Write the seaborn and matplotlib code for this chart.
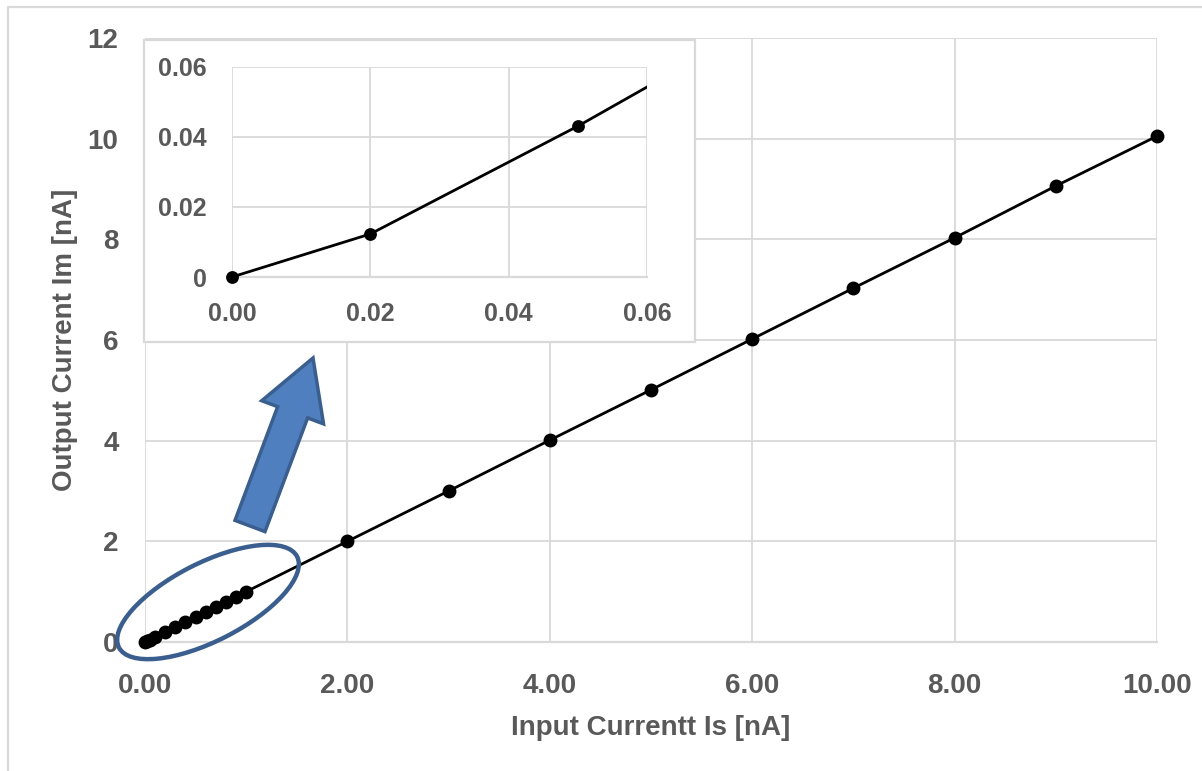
import matplotlib
matplotlib.use("Agg")
import matplotlib.pyplot as plt
import matplotlib.ticker as mticker
from matplotlib.patches import Ellipse, FancyArrow, Rectangle
from matplotlib.lines import Line2D
from matplotlib.transforms import IdentityTransform
import seaborn as sns

# ---------------- data ----------------
input_is = [0, 0.02, 0.05, 0.1, 0.2, 0.3, 0.4, 0.5, 0.6, 0.7, 0.8, 0.9, 1.0,
            2, 3, 4, 5, 6, 7, 8, 9, 10]
output_im = [0, 0.0123, 0.0431, 0.099, 0.2, 0.3, 0.4, 0.5, 0.6, 0.7, 0.8, 0.9, 1.0,
             2.0, 3.0, 4.01, 5.01, 6.02, 7.03, 8.03, 9.06, 10.05]

main_xticks = [0, 2, 4, 6, 8, 10]
main_yticks = [0, 2, 4, 6, 8, 10, 12]
inset_ticks = [0, 0.02, 0.04, 0.06]

txt_col = '#595959'
grid_col = '#D9D9D9'
blue_edge = '#3A5F8E'
blue_fill = '#4F7FBF'
# --------------------------------------

sns.set_style('white')
plt.rcParams['font.family'] = ['Liberation Sans Narrow', 'Liberation Sans', 'DejaVu Sans']
plt.rcParams['font.weight'] = 'bold'

W, H = 1202, 771
fig = plt.figure(figsize=(W / 100, H / 100), dpi=100)

def fx(px):
    return px / W

def fy(py):
    return 1 - py / H

# outer frame of the chart area
fig.add_artist(Line2D([fx(8), 1], [fy(7), fy(7)], color=grid_col, lw=1.6))
fig.add_artist(Line2D([fx(8), fx(8)], [fy(7), 0], color=grid_col, lw=1.6))

# main axes
ax = fig.add_axes([fx(145), fy(642), fx(1157) - fx(145), fy(38) - fy(642)])
sns.lineplot(x=input_is, y=output_im, ax=ax, color='black', linewidth=2.0,
             marker='o', markersize=10, markeredgewidth=0, sort=False, zorder=5,
             clip_on=False)
ax.set_xlim(0, 10)
ax.set_ylim(0, 12)
ax.set_xticks(main_xticks)
ax.set_yticks(main_yticks)
ax.xaxis.set_major_formatter(mticker.FuncFormatter(lambda v, p: '{:.2f}'.format(v)))
ax.yaxis.set_major_formatter(mticker.FuncFormatter(lambda v, p: '{:g}'.format(v)))
ax.grid(True, color=grid_col, linewidth=1.3)
ax.set_axisbelow(True)
for s in ['top', 'right', 'left']:
    ax.spines[s].set_visible(False)
ax.spines['bottom'].set_color(grid_col)
ax.spines['bottom'].set_linewidth(1.6)
ax.tick_params(axis='both', length=0, labelsize=20, colors=txt_col)
ax.tick_params(axis='x', pad=22)
ax.tick_params(axis='y', pad=19)
for lab in ax.get_xticklabels() + ax.get_yticklabels():
    lab.set_fontweight('bold')
ax.set_xlabel('Input Currentt Is [nA]', fontsize=20, color=txt_col, fontweight='bold', labelpad=12)
ax.set_ylabel('Output Current Im [nA]', fontsize=20, color=txt_col, fontweight='bold', labelpad=7)

# inset background box
fig.add_artist(Rectangle((fx(144), fy(342)), fx(695) - fx(144), fy(40) - fy(342),
                         transform=fig.transFigure, facecolor='white',
                         edgecolor=grid_col, linewidth=1.6, zorder=3))

# inset axes
axi = fig.add_axes([fx(232), fy(277), fx(647) - fx(232), fy(67) - fy(277)], zorder=4)
sns.lineplot(x=input_is, y=output_im, ax=axi, color='black', linewidth=2.0,
             sort=False, zorder=5)
# markers of the points that fall inside the zoomed window (not clipped at the edges)
in_x = [v for v in input_is if v <= 0.06]
in_y = [output_im[i] for i, v in enumerate(input_is) if v <= 0.06]
sns.scatterplot(x=in_x, y=in_y, ax=axi, color='black', s=85, linewidth=0,
                zorder=6, clip_on=False)
axi.set_xlim(0, 0.06)
axi.set_ylim(0, 0.06)
axi.set_xticks(inset_ticks)
axi.set_yticks(inset_ticks)
axi.xaxis.set_major_formatter(mticker.FuncFormatter(lambda v, p: '{:.2f}'.format(v)))
axi.yaxis.set_major_formatter(mticker.FuncFormatter(lambda v, p: '{:g}'.format(round(v, 2))))
axi.grid(True, color=grid_col, linewidth=1.3)
axi.set_axisbelow(True)
for s in ['top', 'right', 'left']:
    axi.spines[s].set_visible(False)
axi.spines['bottom'].set_color(grid_col)
axi.spines['bottom'].set_linewidth(1.6)
axi.tick_params(axis='both', length=0, labelsize=18, colors=txt_col, pad=18)
for lab in axi.get_xticklabels() + axi.get_yticklabels():
    lab.set_fontweight('bold')

# ellipse around the low-current points
ell = Ellipse((208, H - 602), 200, 78, angle=27, transform=IdentityTransform(),
              fill=False, edgecolor=blue_edge, linewidth=3.2, zorder=6)
fig.add_artist(ell)

# block arrow pointing to the inset
arr = FancyArrow(250, H - 526, 63, 168, width=32, head_width=66, head_length=58,
                 length_includes_head=True, transform=IdentityTransform(),
                 facecolor=blue_fill, edgecolor=blue_edge, linewidth=2.5, zorder=6)
fig.add_artist(arr)

fig.savefig('out.png', dpi=100, facecolor='white')
